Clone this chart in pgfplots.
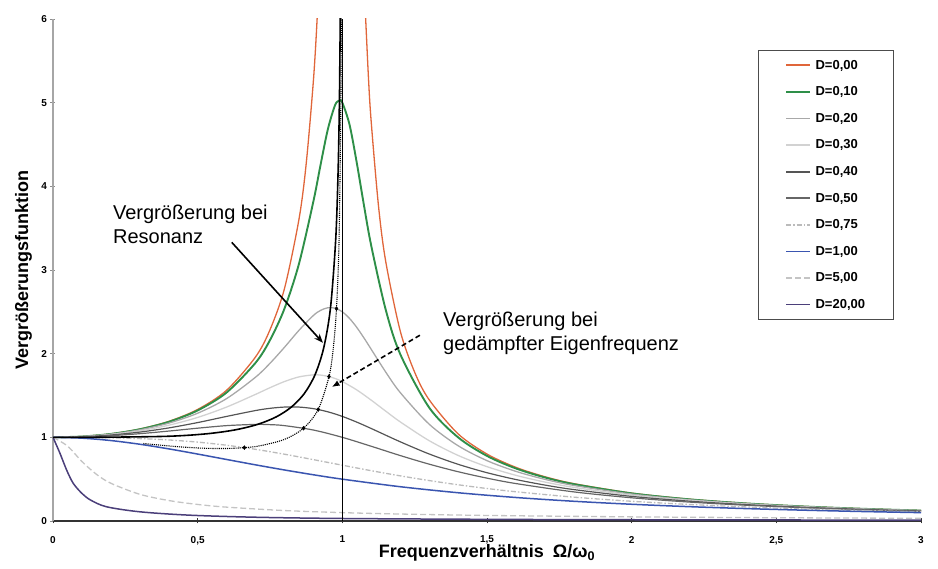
\documentclass[border=0pt]{standalone}
\usepackage{pgfplots}
\pgfplotsset{compat=1.18}
\usepackage{fontspec}
\setmainfont{Liberation Sans}
\usetikzlibrary{arrows.meta}
\definecolor{cA}{HTML}{E0663A}
\definecolor{cB}{HTML}{2E8F48}
\definecolor{cC}{HTML}{A8A8A8}
\definecolor{cD}{HTML}{D2D2D2}
\definecolor{cE}{HTML}{555555}
\definecolor{cF}{HTML}{666666}
\definecolor{cG}{HTML}{BBBBBB}
\definecolor{cH}{HTML}{3A55B0}
\definecolor{cI}{HTML}{C4C4C4}
\definecolor{cJ}{HTML}{4B3F7A}
\begin{document}
\begin{tikzpicture}
\begin{axis}[name=ax, scale only axis, width=868pt, height=502pt,
  xmin=0, xmax=3, ymin=0, ymax=6,
  axis x line=bottom, axis y line=left, axis line style={-},
  x axis line style={black!80, line width=1.2pt},
  y axis line style={black!35, line width=1.6pt},
  xtick={0,0.5,...,3}, ytick={0,1,...,6},
  tick align=center, major tick length=5pt,
  xtick style={black!80, line width=0.8pt},
  ytick style={black!45, line width=0.8pt},
  /pgf/number format/use comma,
  /pgf/number format/assume math mode=true,
  ticklabel style={font=\bfseries\fontsize{10}{12}\selectfont},
  xticklabel style={yshift=-9pt},
  xlabel={Frequenzverhältnis\enspace Ω/ω\textsubscript{0}},
  xlabel style={font=\bfseries\fontsize{18}{21}\selectfont, at={(axis description cs:0.5,-0.0737)}, anchor=base},
  ylabel={Vergrößerungsfunktion},
  ylabel style={font=\bfseries\fontsize{18}{21}\selectfont, at={(axis description cs:-0.034,0.5)}, anchor=center},
  legend style={at={(axis description cs:0.812,0.938)}, anchor=north west, draw=black!70, line width=0.9pt,
    inner xsep=27pt, inner ysep=8pt, row sep=13pt, column sep=3pt, font=\bfseries\fontsize{13}{15}\selectfont,
    nodes={inner sep=1.5pt}, cells={anchor=west}},
  legend image code/.code={\draw[#1, line width=1.8pt] (0pt,0pt) -- (24pt,0pt);},
]
% D=0
\addplot[cA, line width=1.3pt, smooth] coordinates {(0,1)(0.1,1.0101)(0.2,1.0417)(0.3,1.0989)(0.4,1.1905)(0.5,1.3333)(0.6,1.5625)(0.7,1.9608)(0.75,2.2857)(0.8,2.7778)(0.85,3.6036)(0.875,4.2667)(0.9,5.2632)(0.913,6.01)(0.925,6.93)};
\addlegendentry{D=0,00}
\addplot[cA, line width=1.3pt, smooth, forget plot] coordinates {(1.075,6.43)(1.09,5.316)(1.1,4.7619)(1.125,3.7647)(1.15,3.1008)(1.2,2.2727)(1.25,1.7778)(1.3,1.4493)(1.4,1.0417)(1.5,0.8)(1.6,0.641)(1.7,0.5291)(1.8,0.4464)(2,0.3333)(2.2,0.2604)(2.4,0.2101)(2.6,0.1736)(2.8,0.1462)(3,0.125)};
% D=0.1
\addplot[cB, line width=1.9pt, smooth] coordinates {(0,1)(0.1,1.0099)(0.2,1.0408)(0.3,1.0965)(0.4,1.1851)(0.5,1.3216)(0.6,1.5357)(0.7,1.8908)(0.75,2.1622)(0.8,2.5384)(0.85,3.0728)(0.9,3.8208)(0.925,4.2613)(0.95,4.6826)(0.975,4.9713)(0.99,5.0252)(1,5.0)(1.025,4.7358)(1.05,4.2794)(1.075,3.7677)(1.1,3.288)(1.15,2.5245)(1.2,1.9952)(1.3,1.3562)(1.4,1.0)(1.5,0.7779)(1.6,0.6279)(1.7,0.5207)(1.8,0.4408)(2,0.3304)(2.2,0.2587)(2.4,0.209)(2.6,0.1729)(2.8,0.1457)(3,0.1247)};
\addlegendentry{D=0,10}
% D=0.2
\addplot[cC, line width=1.3pt, smooth] coordinates {(0,1)(0.1,1.0093)(0.2,1.0381)(0.3,1.0895)(0.4,1.1695)(0.5,1.2883)(0.6,1.463)(0.7,1.7188)(0.75,1.8851)(0.8,2.0761)(0.85,2.2785)(0.9,2.4566)(0.925,2.5178)(0.95,2.549)(0.975,2.5438)(1,2.5)(1.025,2.4206)(1.05,2.3131)(1.075,2.1868)(1.1,2.0511)(1.15,1.78)(1.2,1.5357)(1.3,1.1574)(1.4,0.8998)(1.5,0.7212)(1.6,0.5931)(1.7,0.4979)(1.8,0.425)(2,0.3221)(2.2,0.2538)(2.4,0.2059)(2.6,0.1708)(2.8,0.1443)(3,0.1236)};
\addlegendentry{D=0,20}
% D=0.3
\addplot[cD, line width=1.3pt, smooth] coordinates {(0,1)(0.1,1.0082)(0.2,1.0336)(0.3,1.078)(0.4,1.1447)(0.5,1.238)(0.6,1.3618)(0.7,1.5136)(0.75,1.5933)(0.8,1.6667)(0.85,1.7223)(0.9,1.7469)(0.925,1.7438)(0.95,1.7293)(0.975,1.7033)(1,1.6667)(1.05,1.5667)(1.1,1.4438)(1.15,1.3129)(1.2,1.1851)(1.3,0.9603)(1.4,0.7839)(1.5,0.6492)(1.6,0.5459)(1.7,0.4656)(1.8,0.4021)(2,0.3095)(2.2,0.2463)(2.4,0.2011)(2.6,0.1676)(2.8,0.142)(3,0.122)};
\addlegendentry{D=0,30}
% D=0.4
\addplot[cE, line width=1.2pt, smooth] coordinates {(0,1)(0.1,1.0068)(0.2,1.0275)(0.3,1.0626)(0.4,1.1125)(0.5,1.1765)(0.6,1.25)(0.7,1.3203)(0.75,1.3467)(0.8,1.3618)(0.85,1.3616)(0.9,1.3429)(0.95,1.3051)(1,1.25)(1.05,1.1817)(1.1,1.1053)(1.2,0.9469)(1.3,0.8012)(1.4,0.6779)(1.5,0.5771)(1.6,0.4956)(1.7,0.4295)(1.8,0.3755)(2,0.2941)(2.2,0.2367)(2.4,0.1948)(2.6,0.1633)(2.8,0.1389)(3,0.1197)};
\addlegendentry{D=0,40}
% D=0.5
\addplot[cF, line width=1.2pt, smooth] coordinates {(0,1)(0.1,1.005)(0.2,1.0198)(0.3,1.0437)(0.4,1.0748)(0.5,1.1094)(0.6,1.1399)(0.7,1.1546)(0.75,1.1517)(0.8,1.1399)(0.9,1.0872)(1,1.0)(1.1,0.893)(1.2,0.7824)(1.3,0.6795)(1.4,0.5891)(1.5,0.5121)(1.6,0.4475)(1.8,0.348)(2,0.2774)(2.2,0.226)(2.4,0.1876)(2.6,0.1582)(2.8,0.1353)(3,0.117)};
\addlegendentry{D=0,50}
% D=0.75
\addplot[cG, line width=1.3pt, dash pattern=on 5pt off 2pt on 1.5pt off 2pt, smooth] coordinates {(0,1)(0.1,0.9987)(0.2,0.9943)(0.3,0.985)(0.4,0.9687)(0.5,0.9428)(0.6,0.9055)(0.7,0.8567)(0.8,0.7982)(0.9,0.7335)(1,0.6667)(1.1,0.6012)(1.2,0.5397)(1.3,0.4834)(1.4,0.4331)(1.5,0.3885)(1.6,0.3494)(1.8,0.285)(2,0.2357)(2.2,0.1975)(2.4,0.1676)(2.6,0.1438)(2.8,0.1246)(3,0.1089)};
\addlegendentry{D=0,75}
% D=1
\addplot[cH, line width=1.5pt, smooth] coordinates {(0,1)(0.1,0.9901)(0.2,0.9615)(0.3,0.9174)(0.4,0.8621)(0.5,0.8)(0.6,0.7353)(0.7,0.6711)(0.8,0.6098)(0.9,0.5525)(1,0.5)(1.2,0.4098)(1.4,0.3378)(1.6,0.2809)(1.8,0.2358)(2,0.2)(2.2,0.1712)(2.4,0.1479)(2.6,0.1289)(2.8,0.1131)(3,0.1)};
\addlegendentry{D=1,00}
% D=5
\addplot[cI, line width=1.3pt, dash pattern=on 6pt off 3pt, smooth] coordinates {(0,1)(0.05,0.8962)(0.1,0.7107)(0.15,0.5585)(0.2,0.4508)(0.3,0.319)(0.4,0.2447)(0.5,0.1978)(0.6,0.1657)(0.8,0.1249)(1,0.1)(1.2,0.0833)(1.5,0.0664)(2,0.0494)(2.5,0.0391)(3,0.0322)};
\addlegendentry{D=5,00}
% D=20
\addplot[cJ, line width=1.5pt, smooth] coordinates {(0,1)(0.024,0.81)(0.047,0.61)(0.07,0.45)(0.1,0.33)(0.13,0.25)(0.185,0.17)(0.3,0.11)(0.47,0.07)(0.7,0.045)(1,0.03)(1.5,0.02)(2,0.015)(3,0.01)};
\addlegendentry{D=20,00}
% vertical line at resonance
\addplot[black, line width=1.3pt, forget plot] coordinates {(1,0)(1,6)};
% locus of maxima
\addplot[black, line width=1.6pt, smooth, forget plot] coordinates {(0,1)(0.1414,1.0002)(0.3937,1.0122)(0.5292,1.0417)(0.6285,1.0885)(0.7071,1.1547)(0.7714,1.2442)(0.8246,1.3639)(0.8689,1.525)(0.9055,1.7471)(0.9354,2.0656)(0.9592,2.5516)(0.9772,3.3715)(0.9855,4.197)(0.9899,5.0252)(0.9936,6.27)};
% locus at damped natural frequency
\addplot[black, line width=1.1pt, densely dotted, smooth, forget plot] coordinates {(0.3122,0.9259)(0.4359,0.8868)(0.5268,0.8691)(0.6,0.8667)(0.6614,0.8768)(0.7141,0.8981)(0.8,0.9753)(0.866,1.1094)(0.9165,1.3325)(0.9539,1.7261)(0.9682,2.0486)(0.9798,2.5384)(0.9887,3.3618)(0.995,5.0188)(0.9968,6.265)};
\addplot[black, only marks, mark=diamond*, mark size=2pt, forget plot] coordinates {(0.6614,0.8768)(0.866,1.1094)(0.9165,1.3325)(0.9539,1.7261)(0.9798,2.5384)};
% annotations
\node[anchor=north west, align=left, inner sep=0pt, font=\fontsize{20}{24}\selectfont] at (axis cs:0.207,3.777) {Vergrößerung bei\\Resonanz};
\node[anchor=north west, align=left, inner sep=0pt, font=\fontsize{20}{23.5}\selectfont] at (axis cs:1.348,2.50) {Vergrößerung bei\\gedämpfter Eigenfrequenz};
\draw[black, line width=1.6pt, -{Stealth[length=9pt,width=7pt]}] (axis cs:0.618,3.33) -- (axis cs:0.933,2.13);
\draw[black, line width=1.6pt, dash pattern=on 5pt off 3pt, -{Latex[length=8pt,width=6pt]}] (axis cs:1.268,2.22) -- (axis cs:0.963,1.60);
\end{axis}
\path ([xshift=-53pt,yshift=-48pt]ax.south west) rectangle ([xshift=17pt,yshift=19pt]ax.north east);
\end{tikzpicture}
\end{document}
